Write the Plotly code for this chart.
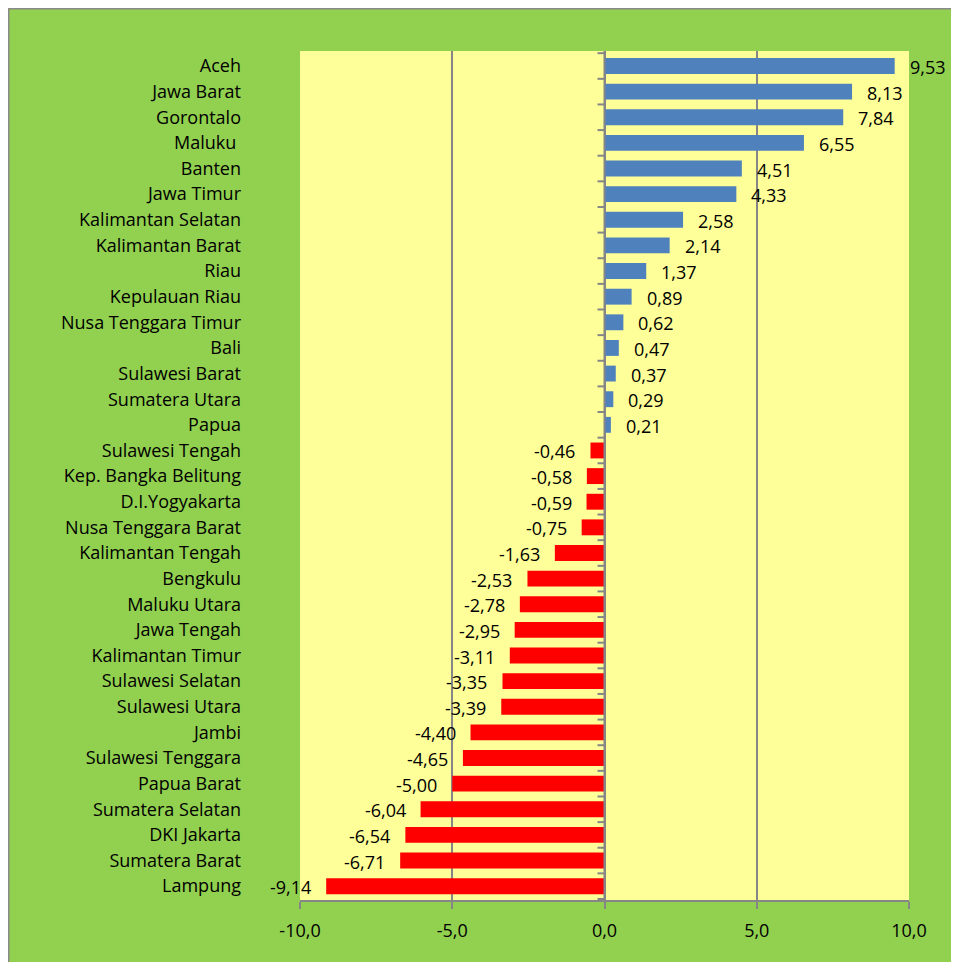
import plotly.graph_objects as go

categories = ["Aceh", "Jawa Barat", "Gorontalo", "Maluku ", "Banten", "Jawa Timur",
              "Kalimantan Selatan", "Kalimantan Barat", "Riau", "Kepulauan Riau",
              "Nusa Tenggara Timur", "Bali", "Sulawesi Barat", "Sumatera Utara", "Papua",
              "Sulawesi Tengah", "Kep. Bangka Belitung", "D.I.Yogyakarta",
              "Nusa Tenggara Barat", "Kalimantan Tengah", "Bengkulu", "Maluku Utara",
              "Jawa Tengah", "Kalimantan Timur", "Sulawesi Selatan", "Sulawesi Utara",
              "Jambi", "Sulawesi Tenggara", "Papua Barat", "Sumatera Selatan",
              "DKI Jakarta", "Sumatera Barat", "Lampung"]
values = [9.53, 8.13, 7.84, 6.55, 4.51, 4.33, 2.58, 2.14, 1.37, 0.89, 0.62, 0.47,
          0.37, 0.29, 0.21, -0.46, -0.58, -0.59, -0.75, -1.63, -2.53, -2.78, -2.95,
          -3.11, -3.35, -3.39, -4.40, -4.65, -5.00, -6.04, -6.54, -6.71, -9.14]
x_ticks = [-10, -5, 0, 5, 10]
x_ticktext = ["-10,0", "-5,0", "0,0", "5,0", "10,0"]

BLUE = "#4F81BD"
RED = "#FF0000"
GREEN = "#92D050"
YELLOW = "#FFFF99"
GRID = "#868686"
FONT = "Open Sans"
FS = 18

colors = [BLUE if v >= 0 else RED for v in values]

fig = go.Figure()
fig.add_trace(go.Bar(
    x=values, y=categories, orientation="h",
    marker=dict(color=colors, line=dict(width=0)),
    hoverinfo="x+y",
))

annotations = []
for c, v in zip(categories, values):
    annotations.append(dict(
        x=v, y=c, xref="x", yref="y",
        text=f"{v:.2f}".replace(".", ","),
        showarrow=False,
        xanchor="left" if v >= 0 else "right",
        xshift=13 if v >= 0 else -13,
        yshift=-1,
        font=dict(family=FONT, size=FS, color="black"),
    ))

# page body margin of 8px puts the figure origin at (8, 8) on screen
W, H = 951, 954
ml, mr, mt, mb = 292, 50, 43, 62
pw, ph = W - ml - mr, H - mt - mb
left_edge = -ml / pw + 0.5 / pw
top_edge = 1 + mt / ph - 0.5 / ph

shapes = [
    dict(type="line", xref="paper", yref="paper", x0=left_edge, x1=1.2,
         y0=top_edge, y1=top_edge, line=dict(color="#8a8a8a", width=2), layer="below"),
    dict(type="line", xref="paper", yref="paper", x0=left_edge, x1=left_edge,
         y0=-0.2, y1=top_edge, line=dict(color="#8a8a8a", width=2), layer="below"),
]
# category axis line at x=0 with boundary ticks
shapes.append(dict(type="line", xref="x", yref="paper", x0=0, x1=0, y0=0, y1=1,
                   line=dict(color=GRID, width=2), layer="above"))
for i in range(len(categories) + 1):
    shapes.append(dict(type="line", xref="x", yref="y", xsizemode="pixel", xanchor=0,
                       x0=-7, x1=0, y0=i - 0.5, y1=i - 0.5,
                       line=dict(color=GRID, width=2)))

fig.update_layout(
    width=W, height=H,
    margin=dict(l=ml, r=mr, t=mt, b=mb),
    paper_bgcolor=GREEN,
    plot_bgcolor=YELLOW,
    bargap=0.38,
    showlegend=False,
    font=dict(family=FONT, size=FS, color="black"),
    annotations=annotations,
    shapes=shapes,
    xaxis=dict(
        range=[-10, 10], tickvals=x_ticks, ticktext=x_ticktext,
        showgrid=True, gridcolor=GRID, gridwidth=2,
        zeroline=False,
        showline=True, linecolor=GRID, linewidth=2,
        ticks="outside", ticklen=7, tickcolor=GRID, tickwidth=2,
        ticklabelstandoff=6,
        tickfont=dict(family=FONT, size=FS, color="black"),
        fixedrange=True,
    ),
    yaxis=dict(
        autorange="reversed", showgrid=False, zeroline=False, showline=False,
        ticks="", ticklabelstandoff=58,
        tickfont=dict(family=FONT, size=FS, color="black"),
        fixedrange=True,
    ),
)

fig.write_html("out.html")
